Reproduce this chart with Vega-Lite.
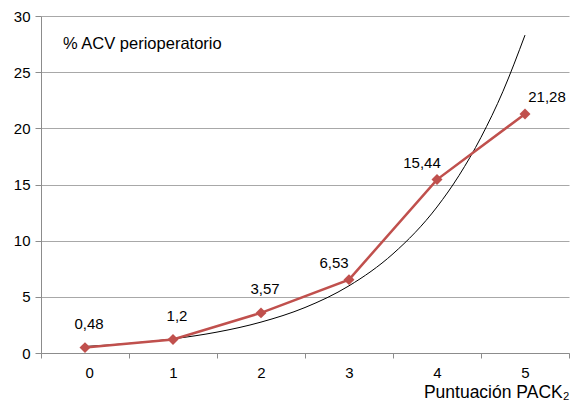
{
  "$schema": "https://vega.github.io/schema/vega-lite/v6.json",
  "width": 528,
  "height": 337,
  "autosize": "none",
  "padding": {"left": 41, "top": 16, "right": 4, "bottom": 59},
  "background": "white",
  "config": {
    "font": "Liberation Sans",
    "view": {"stroke": null},
    "axis": {"labelColor": "#000", "titleColor": "#000", "labelFont": "Liberation Sans", "titleFont": "Liberation Sans"}
  },
  "datasets": {
    "obs": [
      {"x": 0, "y": 0.48, "label": "0,48"},
      {"x": 1, "y": 1.2, "label": "1,2"},
      {"x": 2, "y": 3.57, "label": "3,57"},
      {"x": 3, "y": 6.53, "label": "6,53"},
      {"x": 4, "y": 15.44, "label": "15,44"},
      {"x": 5, "y": 21.28, "label": "21,28"}
    ],
    "trend": [
      {"x": 0, "y": 0.58},
      {"x": 0.5, "y": 0.85},
      {"x": 1, "y": 1.26},
      {"x": 1.5, "y": 1.86},
      {"x": 2, "y": 2.75},
      {"x": 2.5, "y": 4.05},
      {"x": 3, "y": 5.98},
      {"x": 3.5, "y": 8.83},
      {"x": 4, "y": 13.0},
      {"x": 4.25, "y": 15.8},
      {"x": 4.5, "y": 19.2},
      {"x": 4.75, "y": 23.3},
      {"x": 5, "y": 28.3}
    ],
    "note": [{"x": -0.25, "y": 27.5, "text": "% ACV perioperatorio"}]
  },
  "layer": [
    {
      "data": {"name": "trend"},
      "mark": {"type": "line", "color": "#000", "strokeWidth": 1, "interpolate": "monotone"},
      "encoding": {
        "x": {
          "field": "x", "type": "quantitative",
          "scale": {"domain": [-0.5, 5.5], "nice": false, "zero": false},
          "axis": {
            "values": [-0.5, 0.5, 1.5, 2.5, 3.5, 4.5, 5.5],
            "labelExpr": "datum.value < 5 ? format(datum.value + 0.5, 'd') : ''",
            "labelOffset": 44,
            "labelFontSize": 15,
            "labelPadding": 7,
            "tickSize": 5,
            "tickColor": "#8c8c8c",
            "domainColor": "#8c8c8c",
            "grid": false,
            "title": "Puntuación PACK₂",
            "titleFontSize": 17.5,
            "titleFontWeight": "normal",
            "titleAnchor": "end",
            "titleAlign": "right",
            "titleBaseline": "alphabetic",
            "titleY": 44
          }
        },
        "y": {
          "field": "y", "type": "quantitative",
          "scale": {"domain": [0, 30], "nice": false},
          "axis": {
            "values": [0, 5, 10, 15, 20, 25, 30],
            "labelFontSize": 15,
            "labelPadding": 5,
            "tickSize": 6,
            "tickColor": "#8c8c8c",
            "domainColor": "#8c8c8c",
            "grid": true,
            "gridColor": "#a8a8a8",
            "title": null
          }
        }
      }
    },
    {
      "data": {"name": "obs"},
      "mark": {"type": "line", "color": "#C0504D", "strokeWidth": 2.5},
      "encoding": {
        "x": {"field": "x", "type": "quantitative"},
        "y": {"field": "y", "type": "quantitative"}
      }
    },
    {
      "data": {"name": "obs"},
      "mark": {"type": "point", "shape": "diamond", "filled": true, "color": "#C0504D", "size": 120, "opacity": 1},
      "encoding": {
        "x": {"field": "x", "type": "quantitative"},
        "y": {"field": "y", "type": "quantitative"}
      }
    },
    {
      "data": {"name": "obs"},
      "transform": [{"filter": "datum.x <= 2"}],
      "mark": {"type": "text", "fontSize": 15, "dx": 4, "dy": -24, "color": "#000"},
      "encoding": {
        "x": {"field": "x", "type": "quantitative"},
        "y": {"field": "y", "type": "quantitative"},
        "text": {"field": "label"}
      }
    },
    {
      "data": {"name": "obs"},
      "transform": [{"filter": "datum.x == 3 || datum.x == 4"}],
      "mark": {"type": "text", "fontSize": 15, "dx": -15, "dy": -17, "color": "#000"},
      "encoding": {
        "x": {"field": "x", "type": "quantitative"},
        "y": {"field": "y", "type": "quantitative"},
        "text": {"field": "label"}
      }
    },
    {
      "data": {"name": "obs"},
      "transform": [{"filter": "datum.x == 5"}],
      "mark": {"type": "text", "fontSize": 15, "dx": 22, "dy": -17, "color": "#000"},
      "encoding": {
        "x": {"field": "x", "type": "quantitative"},
        "y": {"field": "y", "type": "quantitative"},
        "text": {"field": "label"}
      }
    },
    {
      "data": {"name": "note"},
      "mark": {"type": "text", "fontSize": 16.5, "align": "left", "baseline": "middle", "color": "#000"},
      "encoding": {
        "x": {"field": "x", "type": "quantitative"},
        "y": {"field": "y", "type": "quantitative"},
        "text": {"field": "text"}
      }
    }
  ]
}
